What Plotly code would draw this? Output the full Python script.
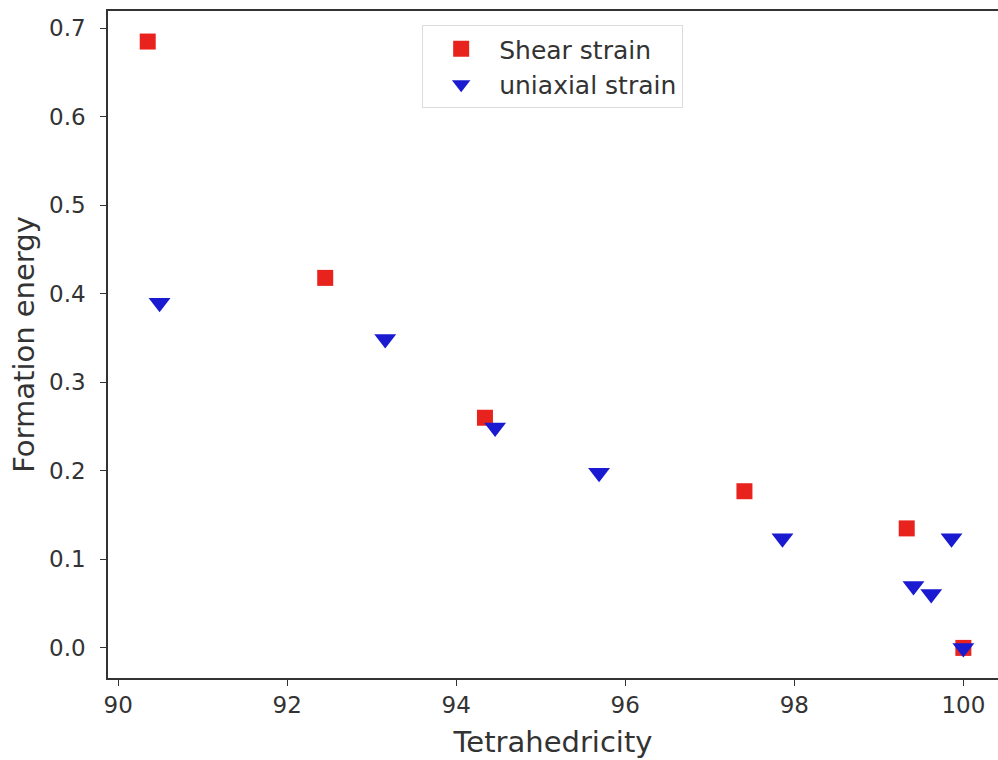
import plotly.graph_objects as go

shear_x = [90.35, 92.45, 94.34, 97.41, 99.33, 100.0]
shear_y = [0.685, 0.418, 0.260, 0.177, 0.135, 0.0]

uni_x = [90.49, 93.16, 94.46, 95.69, 97.86, 99.41, 99.62, 99.86, 100.0]
uni_y = [0.390, 0.349, 0.249, 0.198, 0.124, 0.070, 0.061, 0.124, 0.0]

x_ticks = [90, 92, 94, 96, 98, 100]
y_ticks = [0.0, 0.1, 0.2, 0.3, 0.4, 0.5, 0.6, 0.7]

fig = go.Figure()
fig.add_trace(go.Scatter(
    x=shear_x, y=shear_y, mode="markers", name="Shear strain",
    marker=dict(symbol="square", size=16, color="#e8231d", line=dict(width=0)),
))
fig.add_trace(go.Scatter(
    x=uni_x, y=uni_y, mode="markers", name="uniaxial strain",
    marker=dict(symbol="triangle-down", size=19, color="#1a1ad0", line=dict(width=0)),
))

font = "DejaVu Sans, Verdana, sans-serif"
fig.update_layout(
    width=998, height=760,
    margin=dict(l=108, r=0, t=11, b=82),
    paper_bgcolor="white", plot_bgcolor="white",
    font=dict(family=font, color="#333333"),
    showlegend=True,
    legend=dict(
        x=0.353, y=0.979, xanchor="left", yanchor="top",
        bgcolor="rgba(255,255,255,0.9)", bordercolor="#dcdcdc", borderwidth=1,
        font=dict(size=25, family=font, color="#333333"),
        itemsizing="trace", tracegroupgap=0, itemwidth=66,
    ),
    xaxis=dict(
        range=[89.88, 100.41], tickvals=x_ticks, ticktext=[str(v) for v in x_ticks],
        showgrid=False, zeroline=False, showline=True, linecolor="#333333", linewidth=1.5,
        mirror=True, ticks="outside", ticklen=6, tickwidth=1.3, tickcolor="#333333",
        tickfont=dict(size=23), title=dict(text="Tetrahedricity", font=dict(size=29), standoff=14),
    ),
    yaxis=dict(
        range=[-0.034, 0.7195], tickvals=y_ticks, ticktext=["%.1f" % v for v in y_ticks],
        showgrid=False, zeroline=False, showline=True, linecolor="#333333", linewidth=1.5,
        mirror=False, ticks="outside", ticklen=6, tickwidth=1.3, tickcolor="#333333",
        tickfont=dict(size=23), ticklabelstandoff=10,
        title=dict(text="Formation energy", font=dict(size=29), standoff=6),
    ),
)

fig.write_html("out.html")
